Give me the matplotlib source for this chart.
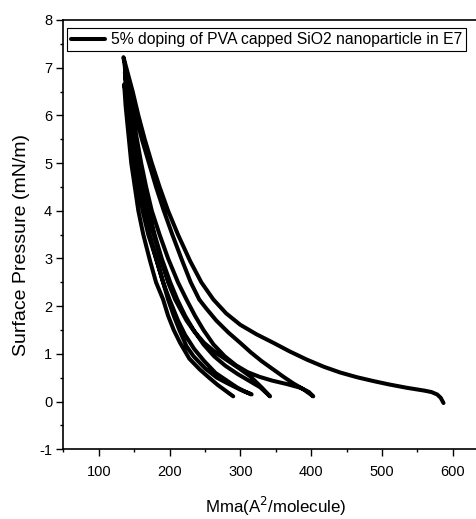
## Lib plotting
import matplotlib.pyplot as plt
import numpy as np
from matplotlib.ticker import MultipleLocator

plt.rcParams['font.family'] = ['Liberation Sans', 'DejaVu Sans']
plt.rcParams['axes.unicode_minus'] = False

## Données lues sur l'isotherme (Mma en A^2/molecule, pression en mN/m)
## compression 1 : 590 -> 135
c1_x = [587, 583, 578, 570, 560, 535, 510, 488, 465, 441, 418, 394, 370, 347, 323, 300, 280, 262,
        245, 229, 212, 198, 186, 175, 165, 156, 148, 139, 135]
c1_p = [-0.03, 0.08, 0.15, 0.2, 0.23, 0.29, 0.36, 0.43, 0.51, 0.61, 0.73, 0.88, 1.05, 1.23, 1.41, 1.61, 1.85, 2.14,
        2.5, 2.95, 3.5, 4.0, 4.5, 5.0, 5.5, 6.0, 6.5, 7.0, 7.22]
## expansion 1 : 135 -> 403
e1_x = [135, 141, 148, 154, 160, 167, 175, 186, 198, 212, 224, 236, 248, 262, 278, 294, 310, 327, 345, 365, 385, 397, 403]
e1_p = [7.22, 6.6, 6.0, 5.5, 5.0, 4.5, 4.0, 3.5, 3.0, 2.5, 2.14, 1.8, 1.5, 1.2, 0.95, 0.76, 0.62, 0.52, 0.44, 0.37, 0.29, 0.2, 0.11]
## compression 2 : 403 -> 137
c2_x = [403, 390, 375, 361, 347, 330, 315, 300, 283, 266, 252, 242, 230, 218, 204, 192, 181, 171, 161, 152, 144, 137]
c2_p = [0.11, 0.25, 0.38, 0.52, 0.67, 0.85, 1.03, 1.23, 1.45, 1.7, 1.95, 2.14, 2.5, 2.95, 3.5, 4.0, 4.5, 5.0, 5.5, 6.0, 6.5, 7.0]
## expansion 2 : 137 -> 342
e2_x = [137, 141, 146, 151, 157, 163, 170, 179, 189, 201, 211, 222, 234, 248, 263, 279, 296, 313, 328, 342]
e2_p = [7.0, 6.5, 6.0, 5.5, 5.0, 4.5, 4.0, 3.5, 3.0, 2.5, 2.14, 1.8, 1.5, 1.2, 0.95, 0.75, 0.58, 0.43, 0.3, 0.11]
## compression 3 : 342 -> 137
c3_x = [342, 330, 314, 298, 283, 265, 249, 236, 224, 208, 198, 188, 178, 170, 162, 156, 150, 145, 140, 137]
c3_p = [0.11, 0.3, 0.53, 0.7, 0.85, 1.03, 1.23, 1.45, 1.7, 2.14, 2.5, 2.95, 3.5, 4.0, 4.5, 5.0, 5.5, 6.0, 6.5, 6.9]
## expansion 3 : 137 -> 316
e3_x = [137, 139, 143, 147, 151, 156, 162, 170, 182, 191, 198, 206, 214, 224, 234, 250, 267, 281, 300, 316]
e3_p = [6.9, 6.5, 6.0, 5.5, 5.0, 4.5, 4.0, 3.5, 2.95, 2.5, 2.14, 1.8, 1.5, 1.16, 0.95, 0.7, 0.5, 0.39, 0.25, 0.15]
## compression 4 : 316 -> 136
c4_x = [316, 305, 295, 280, 265, 249, 235, 222, 212, 200, 191, 182, 172, 165, 158, 152, 147, 142, 139, 136]
c4_p = [0.15, 0.22, 0.3, 0.45, 0.6, 0.85, 1.1, 1.4, 1.7, 2.14, 2.5, 2.95, 3.5, 4.0, 4.5, 5.0, 5.5, 6.0, 6.4, 6.65]
## expansion 4 : 136 -> 290
e4_x = [136, 138, 142, 146, 151, 156, 163, 172.5, 181, 191, 198, 206, 215, 228, 243, 256, 268, 280, 290]
e4_p = [6.65, 6.2, 5.6, 5.0, 4.5, 4.0, 3.5, 2.95, 2.5, 2.14, 1.8, 1.5, 1.23, 0.9, 0.67, 0.5, 0.35, 0.22, 0.11]

label = "5% doping of PVA capped SiO2 nanoparticle in E7"

## Une seule courbe continue (cycles compression / expansion)
mma = np.concatenate([c1_x, e1_x, c2_x, e2_x, c3_x, e3_x, c4_x, e4_x])
pres = np.concatenate([c1_p, e1_p, c2_p, e2_p, c3_p, e3_p, c4_p, e4_p])

fig = plt.figure(figsize=(4.77, 5.19), dpi=100)
ax = fig.add_axes([0.1327, 0.1343, 0.8906, 0.8272])

ax.plot(mma, pres, color='black', lw=2.9, solid_capstyle='round', solid_joinstyle='round', label=label)

ax.set_xlim(50, 650)
ax.set_ylim(-1, 8)
ax.xaxis.set_major_locator(MultipleLocator(100))
ax.xaxis.set_minor_locator(MultipleLocator(50))
ax.yaxis.set_major_locator(MultipleLocator(1))
ax.yaxis.set_minor_locator(MultipleLocator(0.5))
ax.tick_params(which='major', direction='out', length=5, width=1, labelsize=10.5)
ax.tick_params(axis='x', which='major', pad=6)
ax.tick_params(axis='y', which='major', pad=3)
ax.tick_params(which='minor', direction='out', length=2.5, width=1)
ax.tick_params(top=False, right=False)
for s in ax.spines.values():
    s.set_linewidth(1.2)

ax.set_xlabel(r"Mma(A$^2$/molecule)", fontsize=12.2, labelpad=12)
ax.set_ylabel("Surface Pressure (mN/m)", fontsize=14)
ax.yaxis.set_label_coords(-0.078, 0.475)

leg = ax.legend(loc='upper left', bbox_to_anchor=(0.008, 0.981), borderaxespad=0,
                fontsize=11.3, handlelength=2.2, handletextpad=0.35, borderpad=0.25,
                fancybox=False, framealpha=1, edgecolor='black')
leg.get_frame().set_linewidth(0.8)

## Sauvegarde image
plt.savefig('out.png', dpi=100)
